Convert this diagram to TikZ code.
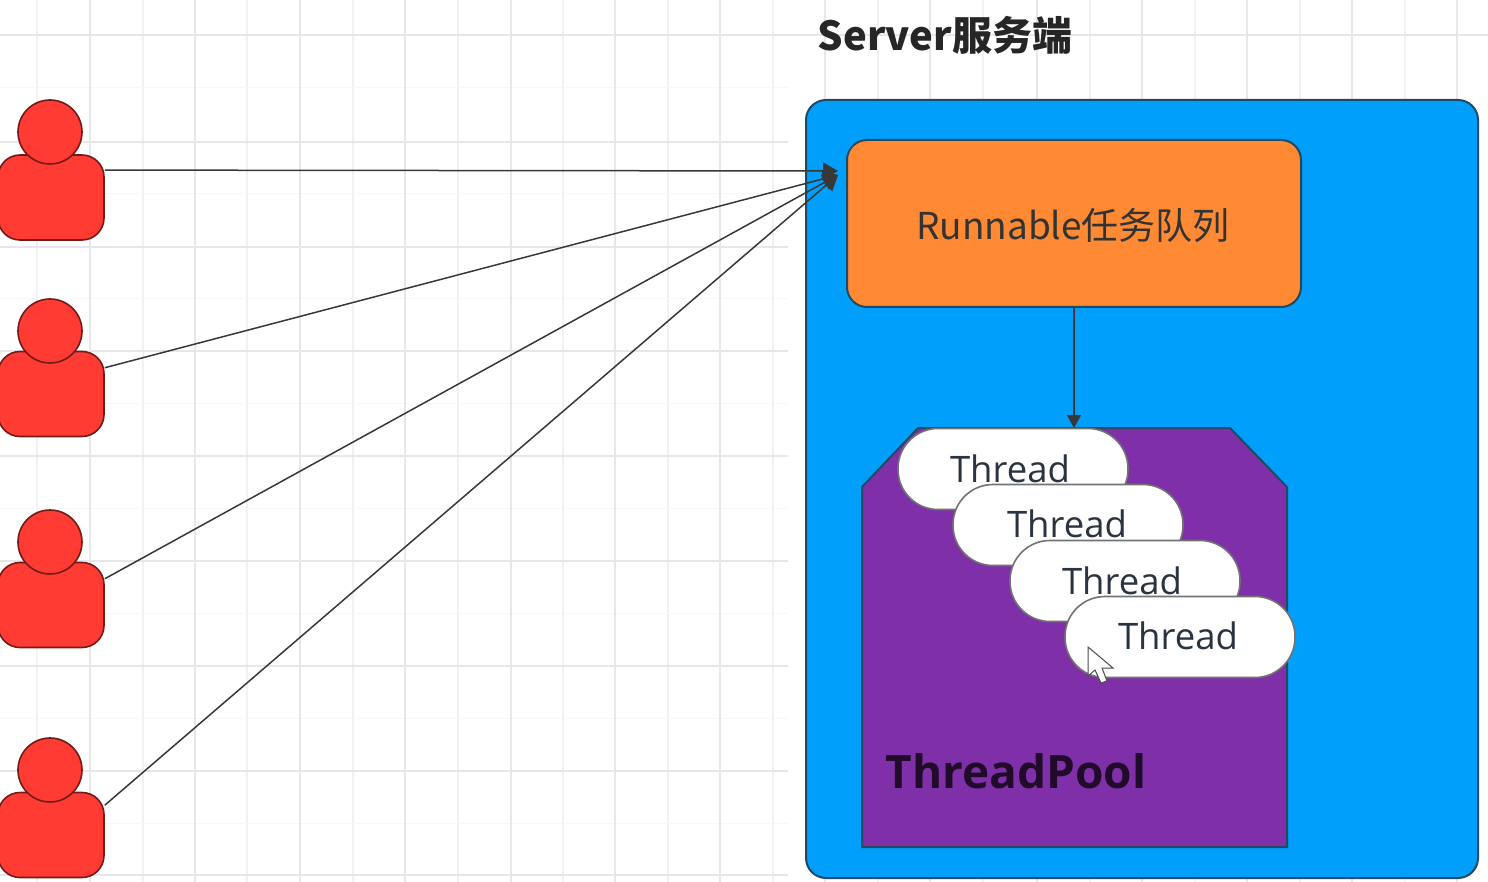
\documentclass[tikz,border=0pt]{standalone}
\usepackage{fontspec}
\usetikzlibrary{arrows.meta}
\setmainfont{Open Sans}
\newfontfamily\cjk{Noto Sans CJK SC}
\definecolor{gridmajor}{HTML}{E7E7EA}
\definecolor{gridminor}{HTML}{F1F1F3}
\definecolor{gridfaint}{HTML}{F7F7F8}
\definecolor{userred}{HTML}{FF3B33}
\definecolor{serverblue}{HTML}{009FFB}
\definecolor{queueorange}{HTML}{FF8A33}
\definecolor{poolpurple}{HTML}{7F30A8}
\definecolor{edgedark}{HTML}{1F4A66}
\definecolor{threadink}{HTML}{2A3440}
\tikzset{
  usershape/.style={draw=black!55!userred,fill=userred,line width=1.6pt,inner sep=0pt},
  userbody/.style={usershape,rectangle,rounded corners=22pt,minimum width=106pt,minimum height=85pt},
  userhead/.style={usershape,circle,minimum size=64pt},
  threadbox/.style={draw=black!55,fill=white,line width=1.6pt,rectangle,rounded corners=40pt,
    minimum width=230pt,minimum height=81pt,inner sep=0pt},
  threadtext/.style={inner sep=0pt,text=threadink,font=\fontsize{36.5}{40}\selectfont},
  request/.style={draw=black!78,line width=1.5pt,-{Triangle[length=15pt,width=17pt]}}
}
\begin{document}
\begin{tikzpicture}[x=1pt,y=-1pt]
\useasboundingbox (0,0) rectangle (1488,882);
% background grid
\foreach \gx in {37,143,247,353,458,563,668,773,878,983,1090,1195,1300,1405}
  \draw[gridminor,line width=1.2pt] (\gx,0) -- (\gx,882);
\foreach \gy in {88,194,299,403,508,613,718,823}
  \draw[gridfaint,line width=1pt] (0,\gy) -- (788,\gy);
\foreach \gx in {90,195,300,405,511,615,720,825,930,1037,1142,1247,1352,1457}
  \draw[gridmajor,line width=1.6pt] (\gx,0) -- (\gx,882);
\draw[gridmajor,line width=1.6pt] (0,35) -- (1488,35);
\foreach \gy in {142,247,351,456,561,666,771,875}
  \draw[gridmajor,line width=1.6pt] (0,\gy) -- (788,\gy);
% users
\foreach \nm/\by/\hy in {1/197.5/132,2/394/331,3/605/542,4/835/770} {
  \node[userbody] (body\nm) at (51,\by) {};
  \node[userhead] (head\nm) at (50,\hy) {};
}
% server side
\node[draw=edgedark,fill=serverblue,line width=2pt,rectangle,rounded corners=20pt,
  minimum width=672pt,minimum height=778pt,inner sep=0pt] (server) at (1142,489) {};
\node[inner sep=0pt,font=\cjk\bfseries\fontsize{40}{44}\selectfont,text=black!85] (title) at (945,35) {Server服务端};
\node[draw=edgedark,fill=queueorange,line width=2pt,rectangle,rounded corners=20pt,
  minimum width=454pt,minimum height=167pt,inner sep=0pt] (queue) at (1074,223.5) {};
\node[inner sep=0pt,text=black!80,font=\cjk\fontsize{37}{40}\selectfont] (queuename) at (1073,226) {Runnable任务队列};
\draw[draw=edgedark,fill=poolpurple,line width=2pt] (862,487) -- (918,428) -- (1230,428) -- (1287,487) -- (1287,847) -- (862,847) -- cycle;
\coordinate (pooltop) at (1074,428);
\node[inner sep=0pt,text=black!75!poolpurple,font=\bfseries\fontsize{46}{50}\selectfont] (poolname) at (1016,771) {ThreadPool};
% threads
\foreach \nm/\cx/\cy/\tx/\ty in {1/1013/469/1010/469,2/1068/525/1067/524,3/1125/581/1122/581,4/1180/637/1178/636} {
  \node[threadbox] (thread\nm) at (\cx,\cy) {};
  \node[threadtext] (label\nm) at (\tx,\ty) {Thread};
}
% mouse pointer
\draw[draw=black!70,fill=white,line width=1pt] (1088,647) -- (1088,676) -- (1095,670) -- (1101,683) -- (1107,681) -- (1102,668) -- (1113,668) -- cycle;
% connectors
\coordinate (inlet) at (838,175);
\coordinate (inlettop) at (838,171);
\draw[request] (body1.27) -- (inlettop);
\draw[request] (body2.26) -- (inlet);
\draw[request] (body3.26) -- (inlet);
\draw[request] (body4.29) -- (inlet);
\draw[request,-{Triangle[length=13pt,width=14pt]}] (queue.south) -- (pooltop);
\end{tikzpicture}
\end{document}
